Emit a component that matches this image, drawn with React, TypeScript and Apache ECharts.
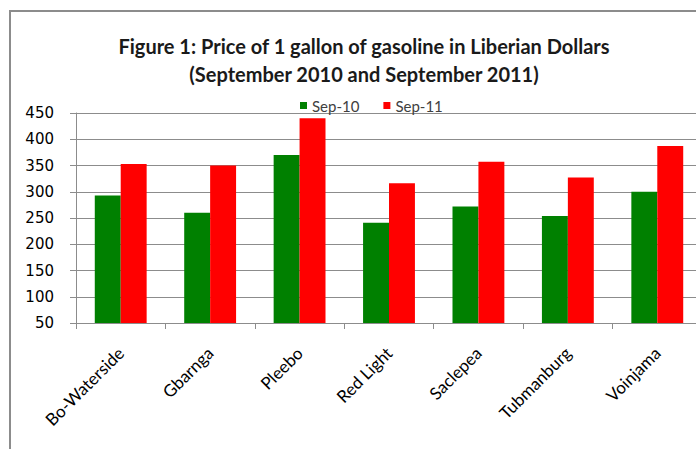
import React, { useEffect, useRef } from "react";
import * as echarts from "echarts";

const categories = ["Bo-Waterside", "Gbarnga", "Pleebo", "Red Light", "Saclepea", "Tubmanburg", "Voinjama"];
const sep10 = [293, 260, 370, 241, 272, 254, 300];
const sep11 = [353, 350, 440, 316, 357, 327, 387];
const seriesNames = ["Sep-10", "Sep-11"];
const titleLines = ["Figure 1: Price of 1 gallon of gasoline in Liberian Dollars", "(September 2010 and September 2011)"];

const FONT = "Lato";

export default function App() {
  const ref = useRef<HTMLDivElement>(null);
  useEffect(() => {
    const chart = echarts.init(ref.current!, null, { renderer: "svg" });
    chart.setOption({
      animation: false,
      backgroundColor: "#ffffff",
      title: {
        text: titleLines.join("\n"),
        left: 359,
        top: 27,
        textAlign: "center",
        textStyle: { fontFamily: FONT, fontSize: 20, fontWeight: "bold", color: "#1a1a1a", lineHeight: 28 },
      },
      legend: {
        data: seriesNames,
        top: 93,
        left: 295,
        icon: "rect",
        itemWidth: 7,
        itemHeight: 7,
        itemGap: 24,
        textStyle: { fontFamily: FONT, fontSize: 15, color: "#404040" },
      },
      graphic: [
        {
          type: "rect",
          shape: { x: 10, y: 11, width: 720, height: 460 },
          style: { fill: "none", stroke: "#8c8c8c", lineWidth: 2 },
          silent: true,
        },
      ],
      grid: { left: 76, top: 113, bottom: 126, right: 2 },
      xAxis: {
        type: "category",
        data: categories,
        axisLine: { lineStyle: { color: "#8c8c8c", width: 1 } },
        axisTick: { show: true, length: 6, lineStyle: { color: "#8c8c8c" } },
        axisLabel: { rotate: 45, fontFamily: FONT, fontSize: 17, color: "#000", margin: 27 },
      },
      yAxis: {
        type: "value",
        min: 50,
        max: 450,
        interval: 50,
        axisLine: { show: true, lineStyle: { color: "#8c8c8c", width: 1 } },
        axisTick: { show: true, length: 6, lineStyle: { color: "#8c8c8c" } },
        axisLabel: { fontFamily: "DejaVu Sans", fontSize: 15, color: "#000", margin: 22 },
        splitLine: { lineStyle: { color: "#8c8c8c", width: 1 } },
      },
      series: [
        {
          name: seriesNames[0],
          type: "bar",
          data: sep10,
          itemStyle: { color: "#008000" },
          barGap: "0%",
          barCategoryGap: "42%",
        },
        {
          name: seriesNames[1],
          type: "bar",
          data: sep11,
          itemStyle: { color: "#ff0000" },
          barGap: "0%",
          barCategoryGap: "42%",
        },
      ],
    });
    return () => chart.dispose();
  }, []);
  return (
    <div style={{ position: "absolute", left: 0, top: 0, width: 696, height: 449, overflow: "hidden" }}>
      <div ref={ref} style={{ width: 704, height: 449 }} />
    </div>
  );
}
